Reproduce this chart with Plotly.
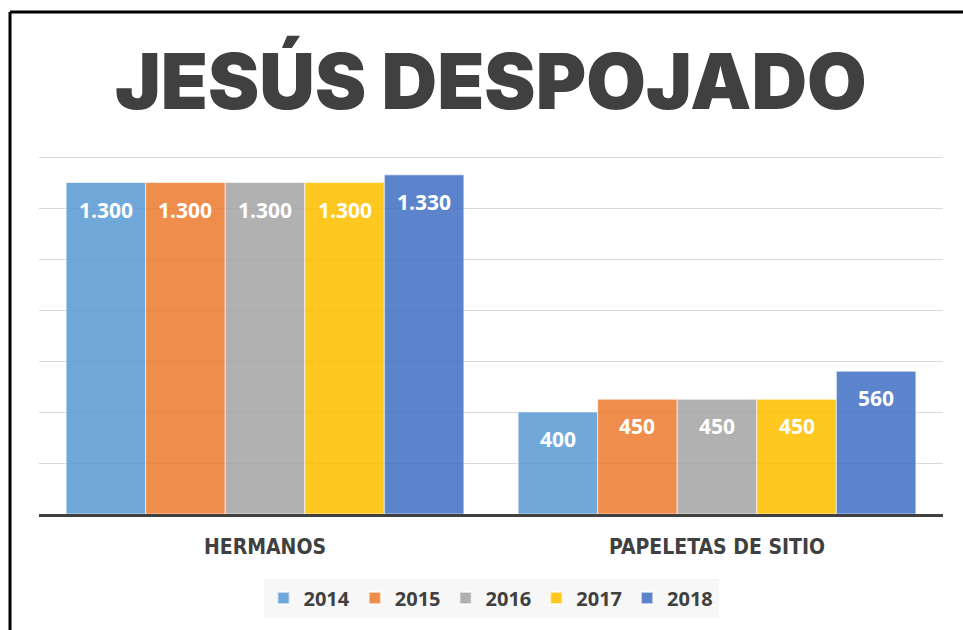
import plotly.graph_objects as go

categories = ["HERMANOS", "PAPELETAS DE SITIO"]
years = ["2014", "2015", "2016", "2017", "2018"]
values = {
    "2014": [1300, 400],
    "2015": [1300, 450],
    "2016": [1300, 450],
    "2017": [1300, 450],
    "2018": [1330, 560],
}
labels = {
    "2014": ["1.300", "400"],
    "2015": ["1.300", "450"],
    "2016": ["1.300", "450"],
    "2017": ["1.300", "450"],
    "2018": ["1.330", "560"],
}
gridvals = [200, 400, 600, 800, 1000, 1200, 1400]
colors = ["rgba(91,155,213,0.87)", "rgba(237,125,49,0.87)", "rgba(165,165,165,0.87)",
          "rgba(255,192,0,0.87)", "rgba(68,114,196,0.87)"]
title_text = "JESÚS DESPOJADO"

W, H = 963, 630
L, R, T, B = 39, 20, 154, 116
pw, ph = W - L - R, H - T - B
ymax = 1400 * ph / 357.0
bargap = 0.12
xpos = list(range(len(categories)))
bw = (1 - bargap) / len(years)

def py(pix):
    return (T + ph - pix) / ph

def px(pix):
    return (pix - L) / pw

fig = go.Figure()
annotations = []
for j, (y, c) in enumerate(zip(years, colors)):
    fig.add_trace(go.Bar(
        x=xpos, y=values[y], name=y,
        marker=dict(color=c, line=dict(color="rgba(255,255,255,0.6)", width=1)),
        hoverinfo="skip",
    ))
    for i, v in enumerate(values[y]):
        annotations.append(dict(
            x=xpos[i] + (j - (len(years) - 1) / 2) * bw, y=v, xref="x", yref="y",
            text=labels[y][i], showarrow=False, yanchor="middle", yshift=-27,
            font=dict(family="Open Sans", size=21, color="white", weight="bold"),
        ))

annotations.append(dict(
    x=0.5, y=py(81), xref="paper", yref="paper", text=title_text,
    showarrow=False, xanchor="center", yanchor="middle",
    font=dict(family="Inter", size=77, color="#404040", weight=900),
))

fig.update_layout(
    width=W, height=H,
    margin=dict(l=L, r=R, t=T, b=B, autoexpand=False),
    paper_bgcolor="white", plot_bgcolor="white",
    barmode="group", bargap=bargap, bargroupgap=0,
    annotations=annotations,
    showlegend=True,
    legend=dict(
        orientation="h", x=0.5, xanchor="center", xref="paper",
        y=py(598), yanchor="middle",
        bgcolor="#F7F7F7", borderwidth=0,
        font=dict(family="Open Sans", size=20, color="#404040", weight="bold"),
        itemsizing="constant",
    ),
    xaxis=dict(
        tickmode="array", tickvals=xpos, ticktext=categories,
        range=[-0.5, len(categories) - 0.5],
        showgrid=False, zeroline=False,
        showline=True, linecolor="#404040", linewidth=3,
        ticks="", ticklabelstandoff=12,
        tickfont=dict(family="DejaVu Sans Condensed", size=21, color="#404040", weight="bold"),
        fixedrange=True,
    ),
    yaxis=dict(
        range=[0, ymax], tickvals=gridvals, showticklabels=False,
        showgrid=True, gridcolor="#D9D9D9", gridwidth=1,
        zeroline=False, showline=False, fixedrange=True,
    ),
    shapes=[
        dict(type="line", xref="paper", yref="paper",
             x0=px(10), x1=px(10), y0=py(12), y1=py(H),
             line=dict(color="black", width=3)),
        dict(type="line", xref="paper", yref="paper",
             x0=px(10), x1=px(W), y0=py(12), y1=py(12),
             line=dict(color="black", width=3)),
    ],
)

fig.write_html("out.html", config={"displayModeBar": False},
               post_script="document.body.style.margin='0';")
